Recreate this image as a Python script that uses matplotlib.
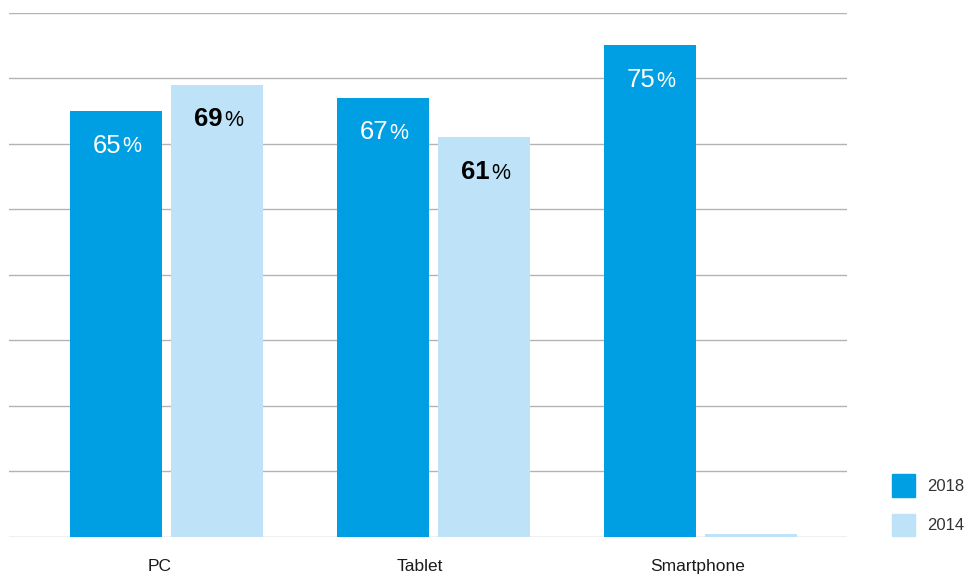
import numpy as np
import matplotlib.pyplot as plt
from matplotlib.patches import Patch

categories = ["PC", "Tablet", "Smartphone"]
values_2018 = [65, 67, 75]
values_2014 = [69, 61, 0.4]
labels_2014 = ["69", "61", None]

c2018 = "#009fe3"
c2014 = "#bee3f8"
plt.rcParams['font.family'] = ['Liberation Sans', 'DejaVu Sans']

fig = plt.figure(figsize=(9.66, 5.77), dpi=100)
ax = fig.add_axes([9/966, 40/577, 838/966, (537-12.5)/577])

x = np.arange(len(categories))
w = 0.345
off = 0.189
ax.bar(x - off, values_2018, w, color=c2018, zorder=3)
ax.bar(x + off, values_2014, w, color=c2014, zorder=3)

def pct_label(xc, top, num, color, weight, gap):
    ax.annotate(num, (xc, top), xytext=(4, -25), textcoords="offset points",
                ha="right", va="center", fontsize=18.5, color=color,
                fontweight=weight, zorder=4)
    ax.annotate("%", (xc, top), xytext=(4 + gap, -26), textcoords="offset points",
                ha="left", va="center", fontsize=15.5, color=color, zorder=4)

for i, v in enumerate(values_2018):
    pct_label(x[i] - off, v, str(v), "white", "normal", 0.3)
for i, v in enumerate(values_2014):
    if labels_2014[i]:
        pct_label(x[i] + off, v, labels_2014[i], "black", "bold", 1.2)

ax.set_xlim(-0.59, 2.549)
ax.set_ylim(0, 80)
ax.set_yticks(np.arange(0, 81, 10))
ax.yaxis.grid(True, color="#b3b3b3", linewidth=1.0, zorder=0)
ax.set_yticklabels([])
ax.tick_params(axis="both", length=0)
for s in ax.spines.values():
    s.set_visible(False)
ax.set_xticks(x + np.array([-0.025, -0.05, -0.012]))
ax.set_xticklabels(categories, fontsize=12.5, color="#1a1a1a")
ax.tick_params(axis="x", pad=16)

handles = [Patch(color=c2018, label="2018"), Patch(color=c2014, label="2014")]
fig.legend(handles=handles, loc="lower left", bbox_to_anchor=(887/966, 36/577),
           frameon=False, fontsize=12, handlelength=1.38, handleheight=1.7,
           labelspacing=1.0, handletextpad=0.75, labelcolor="#333333",
           borderaxespad=0.0, borderpad=0.3)

fig.savefig("out.png", dpi=100)
